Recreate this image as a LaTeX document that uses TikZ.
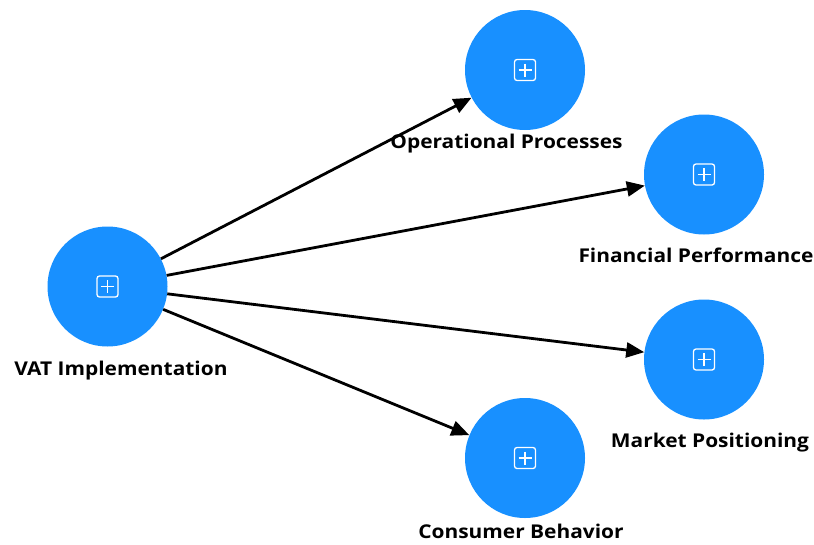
\documentclass[tikz,border=0pt]{standalone}
\usepackage{fontspec}
\setmainfont[BoldFeatures={FakeStretch=1.1}]{Open Sans}
\usetikzlibrary{arrows.meta}
\definecolor{nodeblue}{RGB}{24,144,255}
\tikzset{
  concept/.style={circle,fill=nodeblue,minimum size=120pt,inner sep=0pt},
  lbl/.style={font=\fontsize{19}{23}\selectfont\bfseries,text=black,inner sep=0pt},
  link/.style={line width=2.8pt,-{Triangle[length=18pt,width=15pt]},shorten >=0pt},
  icon/.pic={
    \draw[white,line width=1.3pt,rounded corners=2.5pt] (-10.5,-10.5) rectangle (10.5,10.5);
    \draw[white,line width=1.3pt] (-6.5,0) -- (6.5,0) (0,-6.5) -- (0,6.5);
  }
}
\begin{document}
\begin{tikzpicture}[x=1pt,y=-1pt]
\useasboundingbox (0,0) rectangle (814,544);
\node[concept] (vat) at (107.5,286.5) {};
\node[concept] (op) at (525,70) {};
\node[concept] (fin) at (704,174.5) {};
\node[concept] (mkt) at (704,359.5) {};
\node[concept] (cons) at (525,458) {};
\foreach \n in {vat,op,fin,mkt,cons} {\pic at (\n) {icon};}
\draw[link] (vat) -- (op);
\draw[link] (vat) -- (fin);
\draw[link] (vat) -- (mkt);
\draw[link] (vat) -- (cons);
\node[lbl] (lvat) at (121,371) {VAT Implementation};
\node[lbl] (lop) at (506.5,144) {Operational Processes};
\node[lbl] (lfin) at (696,255) {Financial Performance};
\node[lbl] (lmkt) at (710,443) {Market Positioning};
\node[lbl] (lcons) at (521,531) {Consumer Behavior};
\end{tikzpicture}
\end{document}
